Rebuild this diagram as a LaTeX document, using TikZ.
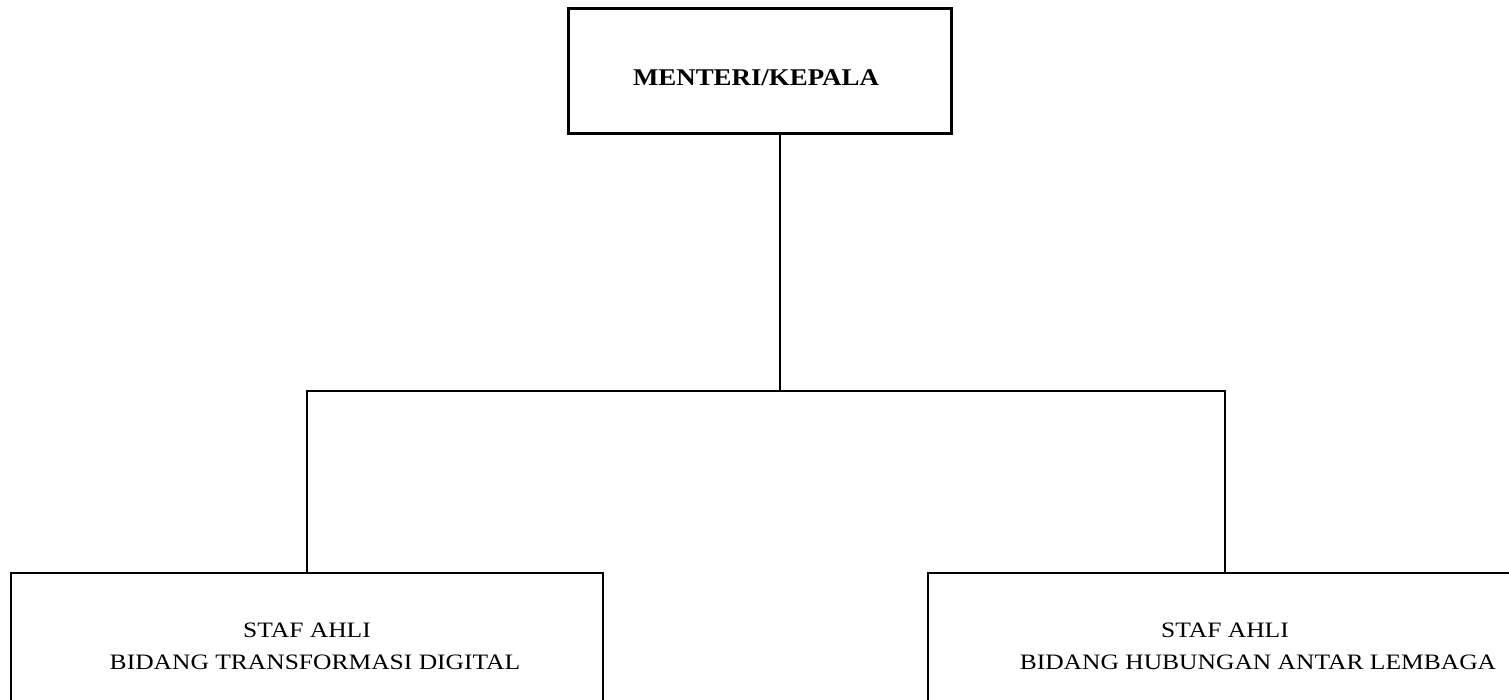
\documentclass[tikz,border=0pt]{standalone}
\usepackage{fontspec}
\setmainfont{Liberation Serif}
\newfontfamily\staffserif[FakeStretch=1.16]{Liberation Serif}
\newfontfamily\headserif[FakeStretch=1.12]{Liberation Serif}
\begin{document}
\begin{tikzpicture}[x=1pt,y=-1pt,
  headbox/.style={draw,line width=3pt,minimum width=383pt,minimum height=125pt,inner sep=0pt,
    text height=29pt,text depth=0pt,
    font=\headserif\fontsize{24}{28}\selectfont\bfseries},
  staffbox/.style={draw,line width=1.5pt,minimum height=146pt,inner sep=0pt,align=center,
    font=\staffserif\fontsize{22}{32}\selectfont},
  link/.style={line width=2pt}]
\useasboundingbox (0,0) rectangle (1509,699);
\clip (0,0) rectangle (1509,699);
\node[headbox] (head) at (760,71) {\hspace*{-8pt}MENTERI/KEPALA};
\node[staffbox,minimum width=592pt] (left) at (307,646)
  {STAF AHLI\\\hspace*{16pt}BIDANG TRANSFORMASI DIGITAL};
\node[staffbox,minimum width=594pt] (right) at (1225,646)
  {STAF AHLI\\\hspace*{66pt}BIDANG HUBUNGAN ANTAR LEMBAGA};
\coordinate (fork) at (780,391);
\draw[link] (head.south -| fork) -- (fork);
\draw[link] (left.north) |- (fork) -| (right.north);
\end{tikzpicture}
\end{document}
